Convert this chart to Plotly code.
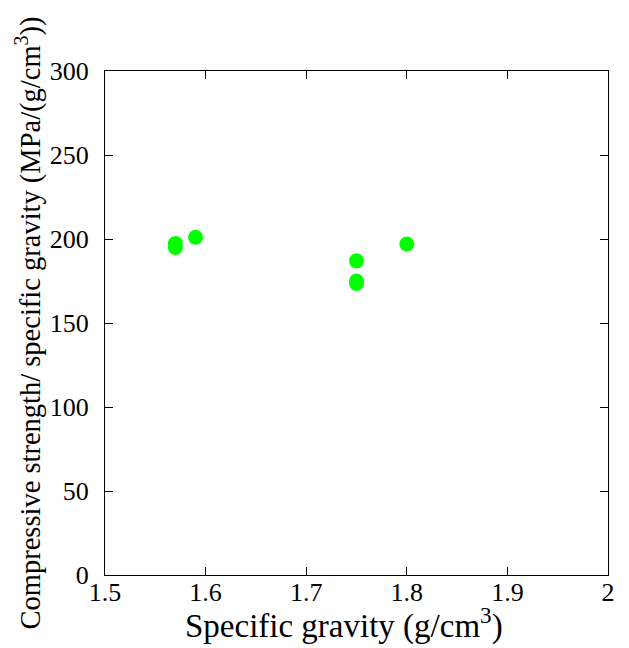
import plotly.graph_objects as go

# Specific gravity vs. specific compressive strength
gravity = [1.57, 1.57, 1.59, 1.75, 1.75, 1.75, 1.80]
strength = [197.3, 195.0, 201.0, 187.0, 175.0, 173.5, 197.0]

fig = go.Figure()
fig.add_trace(go.Scatter(
    x=gravity, y=strength, mode='markers',
    marker=dict(color='#00ff00', size=15, line=dict(width=0)),
    showlegend=False,
))

serif = 'Liberation Serif'
tick_font = dict(family=serif, size=26, color='black')

fig.update_xaxes(
    range=[1.5, 2], tickvals=[1.5, 1.6, 1.7, 1.8, 1.9, 2], ticktext=['1.5', '1.6', '1.7', '1.8', '1.9', '2'],
    showline=True, linecolor='black', linewidth=1, mirror='ticks',
    ticks='inside', ticklen=8, tickcolor='black', showgrid=False, zeroline=False,
    tickfont=tick_font, automargin=False, ticklabelstandoff=-6,
)
fig.update_yaxes(
    range=[0, 300], tickvals=[0, 50, 100, 150, 200, 250, 300],
    showline=True, linecolor='black', linewidth=1, mirror='ticks',
    ticks='inside', ticklen=8, tickcolor='black', showgrid=False, zeroline=False,
    tickfont=tick_font, automargin=False, ticklabelstandoff=10,
    title=dict(text='Compressive strength/ specific gravity (MPa/(g/cm<sup>3</sup>))', font=dict(family=serif, size=28.5, color='black'), standoff=0),
)

# x title sits a little left of centre in the original
fig.add_annotation(
    text='Specific gravity (g/cm<sup>3</sup>)', xref='paper', yref='paper',
    x=0.5, y=0, xanchor='center', yanchor='top', xshift=-13, yshift=-25,
    showarrow=False, font=dict(family=serif, size=33, color='black'),
)

# page body adds an 8px offset, so the figure is a bit smaller than the window
fig.update_layout(
    width=621, height=640,
    margin=dict(l=97, r=21, t=63, b=73),
    plot_bgcolor='white', paper_bgcolor='white',
)

fig.write_html("out.html")
